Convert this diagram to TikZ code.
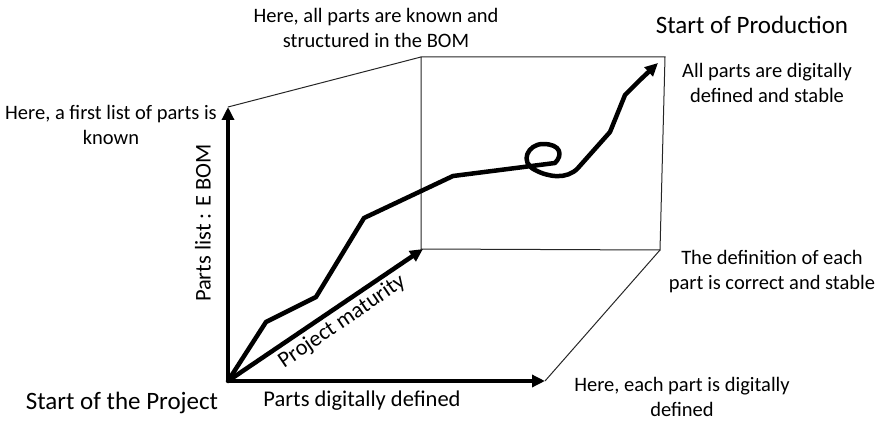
\documentclass[tikz,border=0pt]{standalone}
\usepackage{fontspec}
\setmainfont{Carlito}
\usetikzlibrary{arrows.meta,calc}
\begin{document}
\begin{tikzpicture}[x=1pt,y=-1pt,
  thickarrow/.style={line width=4.5pt,-{Triangle[length=13pt,width=12pt]}},
  thinline/.style={line width=1pt,draw=black!85},
  lbl/.style={font=\fontsize{20.5}{25}\selectfont,align=center,inner sep=0pt},
  axlbl/.style={font=\fontsize{22.5}{27}\selectfont,inner sep=0pt},
  biglbl/.style={font=\fontsize{25}{30}\selectfont,inner sep=0pt}]
\useasboundingbox (0,0) rectangle (880,422);
% key points
\coordinate (O) at (228,381);
\coordinate (Ytip) at (228,107);
\coordinate (Xtip) at (545,381);
\coordinate (Ztip) at (423,249);
\coordinate (B1) at (421,57);
\coordinate (B2) at (665,57);
\coordinate (B3) at (660,250);
\coordinate (B4) at (421,249);
% thin box lines
\draw[thinline] (B1) -- (B2) -- (B3) -- (B4) -- cycle;
\draw[thinline] (Ytip) -- (B1);
\draw[thinline] (Xtip) -- (B3);
% axes
\draw[thickarrow] (O) -- (Ytip);
\draw[thickarrow] (O) -- (Xtip);
\draw[thickarrow] (O) -- (Ztip);
% maturity path
\draw[line width=4.5pt,line join=round,line cap=round,-{Triangle[length=13pt,width=12pt]}]
  (O) -- (266,322) -- (316,297) -- (364,218) -- (453,176) -- (555,163)
  .. controls (563,155) and (561,144) .. (543,144)
  .. controls (528,144) and (519,162) .. (535,170)
  .. controls (548,177) and (567,180) .. (578,168)
  -- (610,132) -- (625,95) -- (640,80) -- (658,63);
% labels
\node[lbl] (tlbl) at (376,28) {Here, all parts are known and\\structured in the BOM};
\node[biglbl] (sop) at (752,25) {Start of Production};
\node[lbl] (alldef) at (767,83) {All parts are digitally\\defined and stable};
\node[lbl] (first) at (111,125) {Here, a first list of parts is\\known};
\node[axlbl,rotate=90] (ebom) at (203,223) {Parts list : E BOM};
\node[axlbl,rotate=34.3] (pm) at (342,322) {Project maturity};
\node[biglbl] (sotp) at (122,403) {Start of the Project};
\node[axlbl] (pdd) at (362,401) {Parts digitally defined};
\node[lbl] (defeach) at (772,272) {The definition of each\\part is correct and stable};
\node[lbl] (each) at (682,397) {Here, each part is digitally\\defined};
\end{tikzpicture}
\end{document}
